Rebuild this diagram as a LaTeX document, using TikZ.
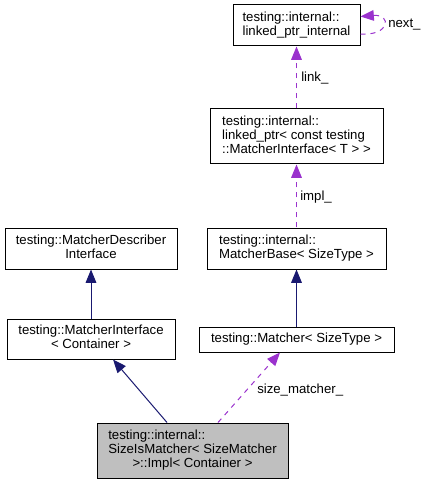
\documentclass[tikz,border=0pt]{standalone}
\usepackage{fontspec}
\setmainfont{Liberation Sans}
\usetikzlibrary{arrows.meta,calc}
\definecolor{navy}{HTML}{191970}
\definecolor{orchid}{HTML}{9A32CD}
\definecolor{grayfill}{HTML}{BFBFBF}
\begin{document}
\begin{tikzpicture}[x=0.75pt,y=-0.75pt,
  every node/.style={font=\fontsize{9.9pt}{10.5pt}\selectfont},
  cls/.style={draw=black,line width=0.75pt,fill=white,inner sep=0pt,align=center},
  inh/.style={draw=navy,line width=0.75pt,-{Triangle[length=10pt,width=8pt]}},
  use/.style={draw=orchid,line width=0.75pt,dash pattern=on 3.75pt off 3.75pt,-{Triangle[length=10pt,width=8pt]}},
  lbl/.style={anchor=west,inner sep=0pt}]
\useasboundingbox (0,0) rectangle (427,484);
\renewcommand\arraystretch{1}
\node[cls,minimum width=127*0.75pt,minimum height=41*0.75pt] (lpi) at (296.5,25.5)
  {\begin{tabular}{@{}l@{}}testing::internal::\\linked\_ptr\_internal\end{tabular}};
\node[cls,minimum width=173*0.75pt,minimum height=55*0.75pt] (lp) at (296.5,136.5)
  {\begin{tabular}{@{}l@{}}testing::internal::\\linked\_ptr< const testing\\::MatcherInterface< T > >\end{tabular}};
\node[cls,minimum width=179*0.75pt,minimum height=41*0.75pt] (mb) at (296.5,248.5)
  {\begin{tabular}{@{}l@{}}testing::internal::\\MatcherBase< SizeType >\end{tabular}};
\node[cls,minimum width=172*0.75pt,minimum height=41*0.75pt] (mdi) at (91,248.5)
  {\begin{tabular}{@{}c@{}}testing::MatcherDescriber\\Interface\end{tabular}};
\node[cls,minimum width=168*0.75pt,minimum height=40*0.75pt] (mi) at (91,339)
  {\begin{tabular}{@{}c@{}}testing::MatcherInterface\\< Container >\end{tabular}};
\node[cls,minimum width=195*0.75pt,minimum height=25*0.75pt] (m) at (296.5,339.5)
  {testing::Matcher< SizeType >};
\node[cls,fill=grayfill,minimum width=191*0.75pt,minimum height=55*0.75pt] (sim) at (192.5,450.5)
  {\begin{tabular}{@{}c@{}}\multicolumn{1}{@{}l@{}}{testing::internal::}\\SizeIsMatcher< SizeMatcher\\>::Impl< Container >\end{tabular}};
% inheritance
\draw[inh] (mi.north) -- (mdi.south);
\draw[inh] ($(sim.north)+(-25.5,0)$) -- ($(mi.south)+(22,0)$);
\draw[inh] (m.north) -- (mb.south);
% usage
\draw[use] ($(sim.north)+(25.5,0)$) -- ($(m.south)+(-16.5,0)$);
\draw[use] (mb.north) -- (lp.south);
\draw[use] (lp.north) -- (lpi.south);
\draw[use] ($(lpi.east)+(0,8.5)$) .. controls (390,36) and (392,14) .. ($(lpi.east)+(0,-9)$);
% labels
\node[lbl] (l1) at (388,25) {next\_};
\node[lbl] (l2) at (301,78) {link\_};
\node[lbl] (l3) at (300,197) {impl\_};
\node[lbl] (l4) at (257,390) {size\_matcher\_};
\end{tikzpicture}
\end{document}
